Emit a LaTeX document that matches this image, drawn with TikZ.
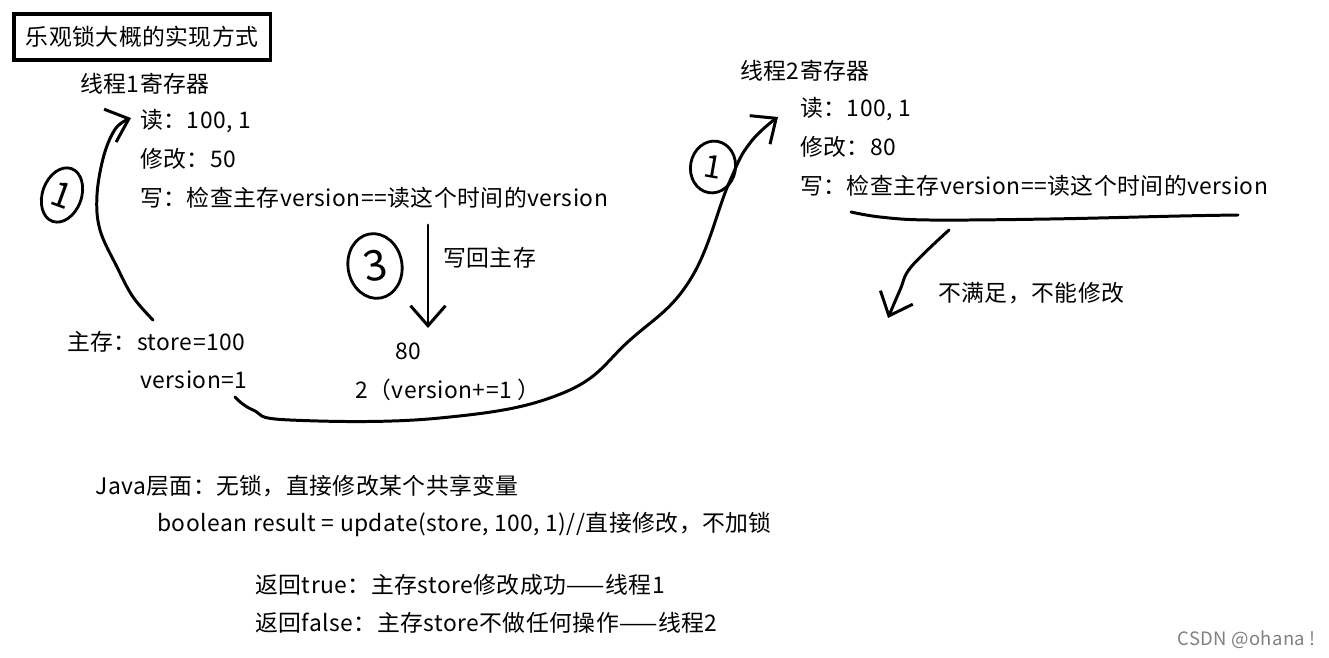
\documentclass[tikz,border=0pt]{standalone}
\usepackage{fontspec}
\setmainfont{Noto Sans CJK SC}[LetterSpace=2]
\usetikzlibrary{arrows.meta, shapes.geometric, positioning}

\tikzset{
  txt/.style={anchor=west, inner sep=0pt, font=\fontsize{13}{15}\selectfont},
  hand/.style={line width=1.7pt, line cap=round, line join=round},
  circnum/.style={draw, ellipse, line width=1.6pt, inner sep=0pt},
  barb/.tip={Straight Barb[length=4mm, width=7mm]}
}

\begin{document}
\begin{tikzpicture}[x=0.02cm, y=-0.02cm]
  \useasboundingbox (0,0) rectangle (1329,658);

  % title
  \node[draw, line width=2.2pt, anchor=north west, inner xsep=0.24cm, minimum height=0.92cm,
        font=\fontsize{13}{15}\selectfont] (title) at (12,12) {乐观锁大概的实现方式};

  % thread 1
  \node[txt] (t1) at (80,84) {线程1寄存器};
  \node[txt] (r1) at (140,121) {读：100, 1};
  \node[txt] (m1) at (140,159) {修改：50};
  \node[txt] (w1) at (140,198) {写：检查主存version==读这个时间的version};

  \node[txt] (back) at (443,258) {写回主存};
  \node[txt] (n80) at (395,351) {80};
  \node[txt] (n2) at (355,390) {2（version+=1 ）};

  % main memory
  \node[txt] (mem) at (67,342) {主存：store=100};
  \node[txt] (ver) at (140,380) {version=1};

  % thread 2
  \node[txt] (t2) at (740,71) {线程2寄存器};
  \node[txt] (r2) at (800,109) {读：100, 1};
  \node[txt] (m2) at (800,147) {修改：80};
  \node[txt] (w2) at (800,186) {写：检查主存version==读这个时间的version};
  \node[txt] (fail) at (938,293) {不满足，不能修改};

  % java side
  \node[txt] (java) at (95,486) {Java层面：无锁，直接修改某个共享变量};
  \node[txt] (code) at (157,524) {boolean result = update(store, 100, 1)//直接修改，不加锁};
  \node[txt] (rt) at (255,585) {返回true：主存store修改成功——线程1};
  \node[txt] (rf) at (255,623) {返回false：主存store不做任何操作——线程2};

  \node[anchor=east, inner sep=0pt, text=gray, font=\fontsize{10.5}{12}\selectfont] (mark) at (1316,640) {CSDN @ohana !};

  % circled step numbers
  \node[circnum, minimum width=0.78cm, minimum height=1.12cm, rotate=-20,
        font=\fontsize{20}{20}\selectfont] (c1a) at (62,195) {1};
  \node[circnum, minimum width=0.9cm, minimum height=1.04cm, rotate=-10,
        font=\fontsize{18}{18}\selectfont] (c1b) at (713,167) {1};
  \node[circnum, minimum width=1.08cm, minimum height=1.3cm, rotate=10,
        font=\fontsize{24}{24}\selectfont] (c3) at (375,266) {3};

  % hand strokes
  \coordinate (memtop) at (153,320);
  \coordinate (r1tip) at (131,118);
  \draw[hand, -barb] plot[smooth, tension=0.6] coordinates
    {(memtop) (133,297) (117,267) (100,230) (97,195) (104,155) (116,128) (r1tip)};

  \coordinate (wtop) at (428,225);
  \coordinate (wbot) at (428,328);
  \draw[hand, -barb] (wtop) -- (wbot);

  \coordinate (verend) at (235,397);
  \coordinate (r2tip) at (778,117);
  \draw[hand, -barb] plot[smooth, tension=0.7] coordinates
    {(verend) (253,410) (290,420) (440,418) (563,393) (630,340) (690,280) (729,183) (750,143) (r2tip)};

  \draw[hand] plot[smooth, tension=0.6] coordinates
    {(851,212) (880,217) (929,220) (1050,219) (1180,216) (1238,215)};

  \coordinate (linemid) at (949,230);
  \coordinate (failtip) at (888,318);
  \draw[hand, -barb] plot[smooth, tension=0.6] coordinates
    {(linemid) (911,267) (900,290) (failtip)};
\end{tikzpicture}
\end{document}
